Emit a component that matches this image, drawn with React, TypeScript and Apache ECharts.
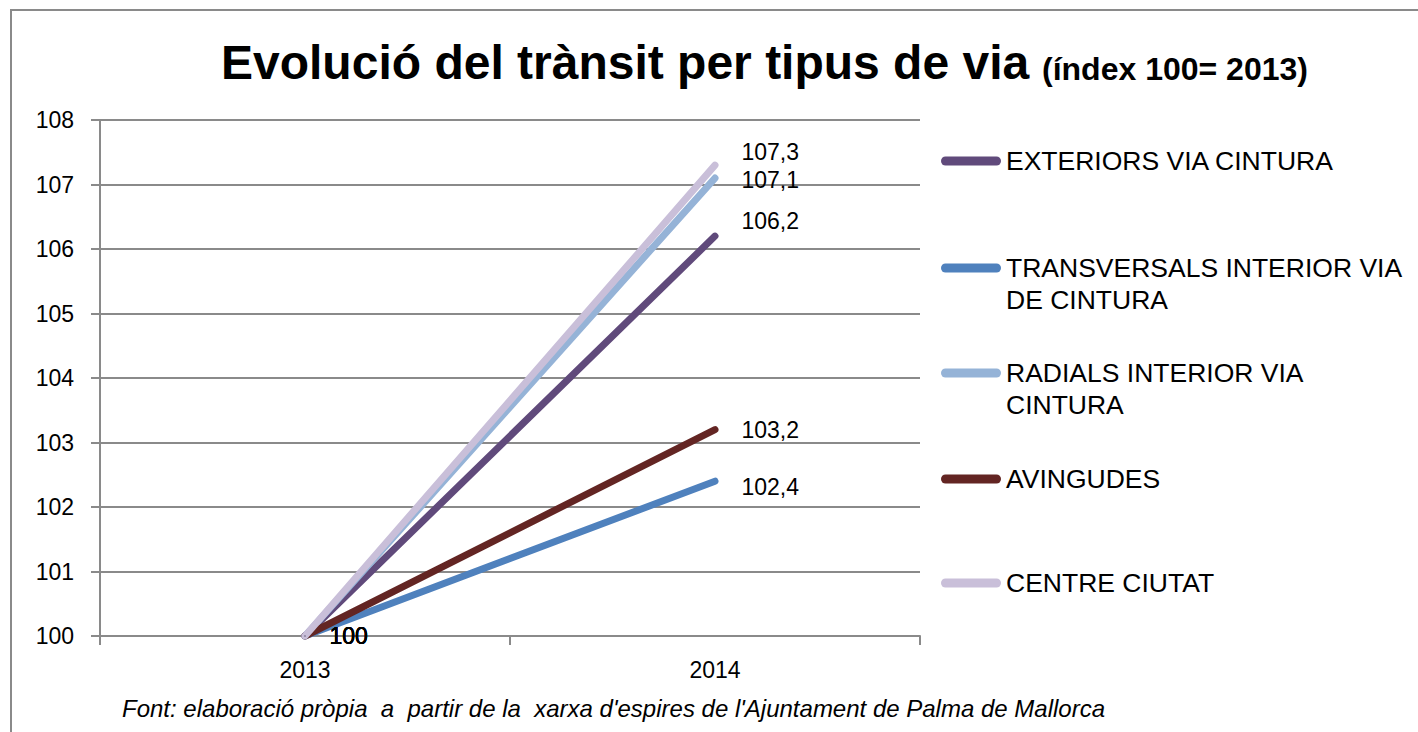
import React, { useEffect, useRef } from "react";
import * as echarts from "echarts";

const years = ["2013", "2014"];
const seriesNames = [
  "EXTERIORS VIA CINTURA",
  "TRANSVERSALS INTERIOR VIA DE CINTURA",
  "RADIALS INTERIOR VIA CINTURA",
  "AVINGUDES",
  "CENTRE CIUTAT",
];
const legendLabels = [
  "EXTERIORS VIA CINTURA",
  "TRANSVERSALS INTERIOR VIA\nDE CINTURA",
  "RADIALS INTERIOR VIA\nCINTURA",
  "AVINGUDES",
  "CENTRE CIUTAT",
];
const exteriors = [100, 106.2];
const transversals = [100, 102.4];
const radials = [100, 107.1];
const avingudes = [100, 103.2];
const centreCiutat = [100, 107.3];
const seriesValues = [exteriors, transversals, radials, avingudes, centreCiutat];
const yTicks = [100, 101, 102, 103, 104, 105, 106, 107, 108];

const colors = ["#604A7B", "#4F81BD", "#95B3D7", "#632523", "#C9BFD9"];
const endLabelOffsets = [[0, -15], [0, 6], [0, 2], [0, 0], [0, -13]];
const legendTops = [145, 220, 325, 463, 567];
const FONT = "'Liberation Sans', Arial, sans-serif";

export default function App() {
  const ref = useRef<HTMLDivElement>(null);
  useEffect(() => {
    if (!ref.current) return;
    const chart = echarts.init(ref.current, undefined, { renderer: "svg" });
    const option: any = {
      animation: false,
      backgroundColor: "#ffffff",
      title: [
        {
          left: 221,
          top: 38,
          padding: 0,
          text: "Evolució del trànsit per tipus de via",
          textStyle: { fontSize: 48, fontWeight: "bold", fontFamily: FONT, color: "#000" },
        },
        {
          left: 1042,
          top: 53,
          padding: 0,
          text: "(índex 100= 2013)",
          textStyle: { fontSize: 32, fontWeight: "bold", fontFamily: FONT, color: "#000" },
        },
      ],
      graphic: [
        {
          type: "rect",
          shape: { x: 11, y: 10, width: 1500, height: 800 },
          style: { fill: "none", stroke: "#8a8a8a", lineWidth: 2 },
          silent: true,
        },
        {
          type: "text",
          left: 122,
          top: 696,
          style: {
            text: "Font: elaboració pròpia  a  partir de la  xarxa d'espires de l'Ajuntament de Palma de Mallorca",
            fontSize: 24,
            fontStyle: "italic",
            fontFamily: FONT,
            fill: "#000",
          },
        },
      ],
      legend: seriesNames.map((n, i) => {
        const twoLine = legendLabels[i].includes("\n");
        return {
          data: [n],
          left: 941,
          top: legendTops[i],
          padding: 0,
          orient: "vertical",
          itemWidth: 60,
          itemHeight: 9,
          icon: "path://M4.5,0 H55.5 A4.5,4.5 0 0 1 55.5,9 H4.5 A4.5,4.5 0 0 1 4.5,0 Z",
          selectedMode: false,
          formatter: () => (twoLine ? "\u00a0\n" + legendLabels[i] : legendLabels[i]),
          textStyle: {
            fontSize: 26.5,
            fontFamily: FONT,
            color: "#000",
            lineHeight: 32,
          },
        };
      }),
      grid: { left: 100, top: 120, width: 820, height: 516 },
      xAxis: {
        type: "category",
        data: years,
        boundaryGap: true,
        axisLine: { lineStyle: { color: "#8a8a8a", width: 2 } },
        axisTick: { show: true, length: 9, lineStyle: { color: "#8a8a8a", width: 2 } },
        axisLabel: { fontSize: 23, fontFamily: FONT, color: "#000", margin: 22 },
      },
      yAxis: {
        type: "value",
        min: 100,
        max: 108,
        interval: 1,
        axisLine: { show: true, lineStyle: { color: "#8a8a8a", width: 2 } },
        axisTick: { show: true, length: 9, lineStyle: { color: "#8a8a8a", width: 2 } },
        splitLine: { lineStyle: { color: "#8a8a8a", width: 2 } },
        axisLabel: {
          fontSize: 23,
          fontFamily: FONT,
          color: "#000",
          margin: 26,
          formatter: (v: number) => (yTicks.includes(v) ? String(v) : ""),
        },
      },
      series: seriesNames.map((n, i) => ({
        name: n,
        type: "line",
        symbol: "circle",
        symbolSize: 1,
        color: colors[i],
        itemStyle: { color: colors[i] },
        lineStyle: { width: 7, cap: "round", color: colors[i] },
        data: seriesValues[i].map((v, j) => ({
          value: v,
          label: {
            show: true,
            position: "right",
            distance: j === 1 ? 26 : 24,
            offset: j === 1 ? endLabelOffsets[i] : [0, 0],
            fontSize: 23,
            fontFamily: FONT,
            color: "#000",
            formatter: (p: any) => String(p.value).replace(".", ","),
          },
        })),
      })),
    };
    chart.setOption(option);
    return () => chart.dispose();
  }, []);
  return (
    <div
      ref={ref}
      style={{ position: "fixed", left: 0, top: 0, width: 1418, height: 732 }}
    />
  );
}
